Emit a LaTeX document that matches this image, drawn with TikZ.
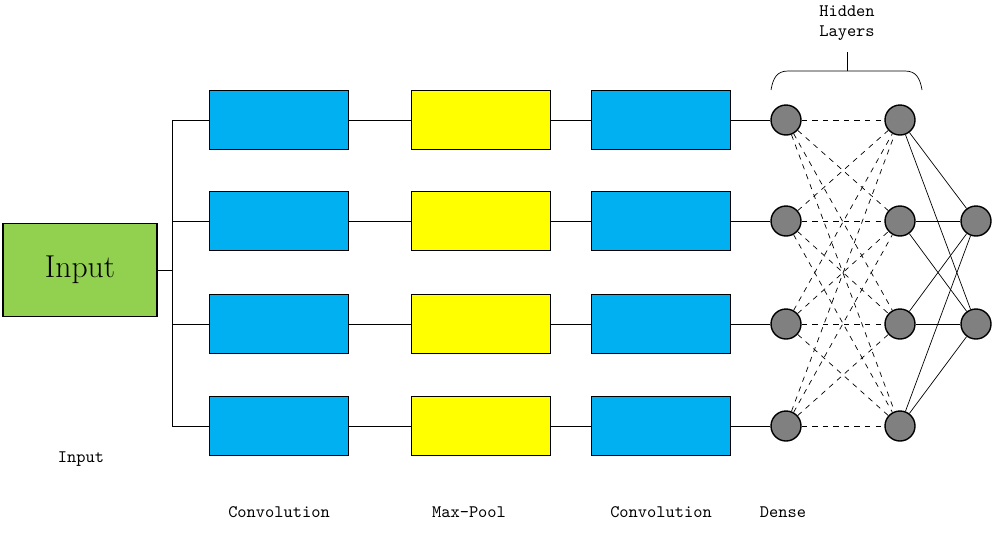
\documentclass[tikz,border=0pt]{standalone}
\usepackage{tikz}
\usetikzlibrary{positioning}

\definecolor{inputgreen}{HTML}{92D050}
\definecolor{convblue}{HTML}{00B0F0}
\definecolor{poolyellow}{HTML}{FFFF00}
\definecolor{neurongray}{HTML}{808080}

\begin{document}
\begin{tikzpicture}[x=0.02cm, y=-0.02cm,
    layer/.style={draw, thick, minimum width=2.78cm, minimum height=1.18cm, inner sep=0pt},
    neuron/.style={draw, thick, circle, fill=neurongray, minimum size=0.6cm, inner sep=0pt},
    caption/.style={font=\ttfamily\fontsize{10}{11.3}\selectfont}]
  \useasboundingbox (0,0) rectangle (994,532);

  % Input block
  \node[layer, fill=inputgreen, minimum width=3.08cm, minimum height=1.86cm,
        font=\fontsize{18}{20}\selectfont] (in) at (80,270) {Input};
  \coordinate (split) at (172,270);
  \draw (in.east) -- (split);
  \draw (172,120) -- (172,426);

  % Four branches: convolution, max-pool, convolution, dense
  \foreach \i/\y in {1/120, 2/221, 3/324, 4/426} {
    \coordinate (bus\i) at (172,\y);
    \node[layer, fill=convblue] (conva\i) at (279,\y) {};
    \node[layer, fill=poolyellow] (pool\i) at (481,\y) {};
    \node[layer, fill=convblue] (convb\i) at (661,\y) {};
    \node[neuron] (ha\i) at (786,\y) {};
    \node[neuron] (hb\i) at (900,\y) {};
    \draw (bus\i) -- (conva\i.west);
    \draw (conva\i.east) -- (pool\i.west);
    \draw (pool\i.east) -- (convb\i.west);
    \draw (convb\i.east) -- (ha\i.west);
  }

  % Output neurons
  \node[neuron] (out1) at (976,221) {};
  \node[neuron] (out2) at (976,324) {};

  % Hidden layer connections (dashed)
  \foreach \i in {1,...,4}
    \foreach \j in {1,...,4}
      \draw[dashed] (ha\i) -- (hb\j);

  % Hidden to output
  \foreach \i in {1,...,4}
    \foreach \j in {1,2}
      \draw (hb\i) -- (out\j);

  % Brace over hidden layers
  \draw (771,90) .. controls (773,78) and (777,71) .. (788,71) -- (905,71)
        .. controls (916,71) and (920,78) .. (922,90);
  \coordinate (bracetip) at (847,52);
  \draw (847,71) -- (bracetip);
  \node[caption, align=center] (hidden) at (847,23) {Hidden\\Layers};

  % Captions
  \node[caption] (capin) at (81,459) {Input};
  \node[caption] (capconva) at (279,512) {Convolution};
  \node[caption] (cappool) at (469,512) {Max-Pool};
  \node[caption] (capconvb) at (661,512) {Convolution};
  \node[caption] (capdense) at (783,512) {Dense};
\end{tikzpicture}
\end{document}
